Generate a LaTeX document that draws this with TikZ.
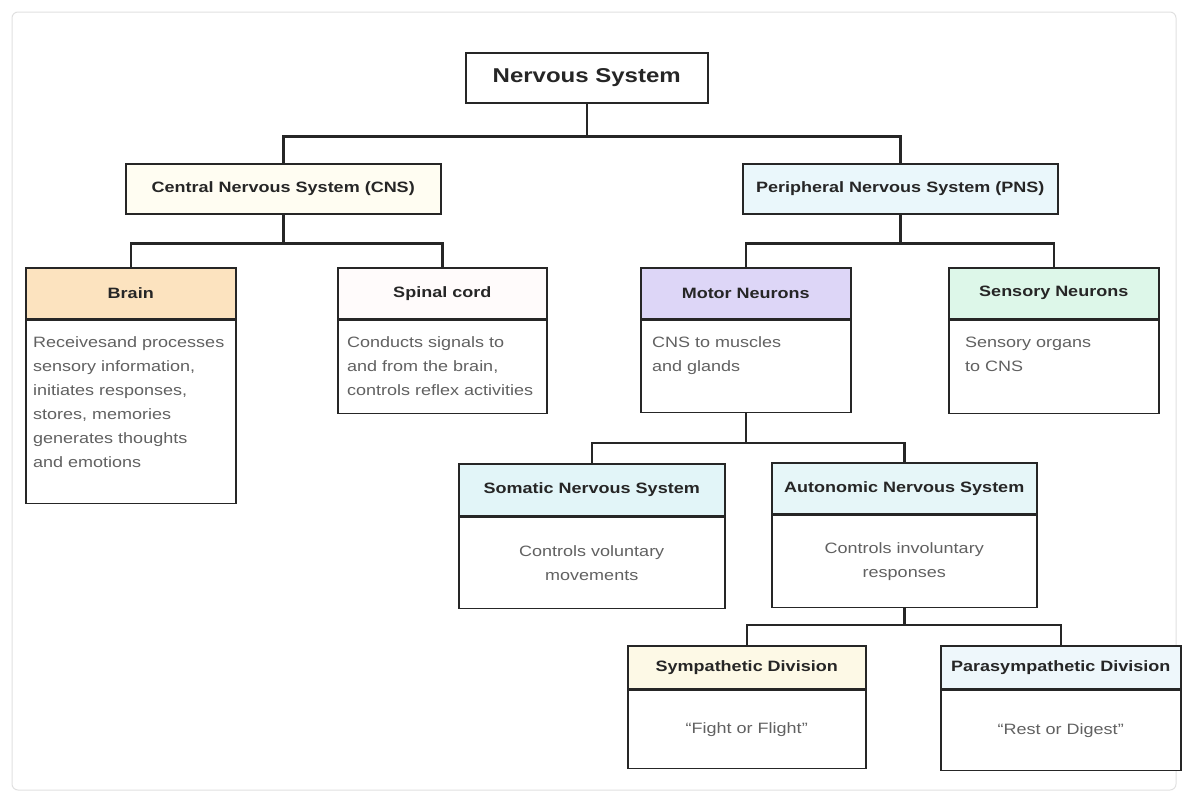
\documentclass[tikz,border=0pt]{standalone}
\usepackage{fontspec}
\setmainfont{Liberation Sans}[FakeStretch=1.2]
\definecolor{cnsc}{HTML}{FFFDF2}
\definecolor{pnsc}{HTML}{EAF7FB}
\definecolor{brainc}{HTML}{FCE3BF}
\definecolor{spinalc}{HTML}{FFFBFB}
\definecolor{motorc}{HTML}{DDD6F7}
\definecolor{sensoryc}{HTML}{DDF7E9}
\definecolor{somaticc}{HTML}{E2F5F8}
\definecolor{autoc}{HTML}{E6F6F8}
\definecolor{sympc}{HTML}{FDF9E6}
\definecolor{parac}{HTML}{EEF7FB}

\begin{document}
\begin{tikzpicture}[x=1pt,y=-1pt,font=\fontsize{15}{24}\selectfont,
    hd/.style={draw=black!85,line width=1.5pt,inner sep=0pt,anchor=north west,
      text=black!85,font=\fontsize{15}{18}\selectfont\bfseries},
    bd/.style={draw=black!85,line width=1.5pt,inner sep=0pt,fill=white,anchor=north},
    txt/.style={inner sep=0pt,text=black!62},
    wire/.style={line width=2.5pt,black!85}]
  \useasboundingbox (0,0) rectangle (1184,798);
  \draw[black!12,rounded corners=6pt,line width=1pt] (12,12) rectangle (1176,790);

  \node[hd,fill=white,minimum width=242pt,minimum height=50pt,
    font=\fontsize{20}{24}\selectfont\bfseries] (ns) at (465,52) {Nervous System};
  \node[hd,fill=cnsc,minimum width=315pt,minimum height=50pt] (cns) at (125,163) {Central Nervous System (CNS)};
  \node[hd,fill=pnsc,minimum width=315pt,minimum height=50pt] (pns) at (742,163) {Peripheral Nervous System (PNS)};

  % name / x / y / width / header / body / colour / title
  \foreach \n/\x/\y/\w/\h/\b/\c/\t in {
      brain/25/267/210/51/183/brainc/Brain,
      spinal/337/267/209/51/93/spinalc/Spinal cord,
      motor/640/267/210/51/92/motorc/Motor Neurons,
      sensory/948/267/210/51/93/sensoryc/Sensory Neurons,
      somatic/458/463/266/52/91/somaticc/Somatic Nervous System,
      auto/771/462/265/51/92/autoc/Autonomic Nervous System,
      symp/627/645/238/43/78/sympc/Sympathetic Division,
      para/940/645/240/43/80/parac/Parasympathetic Division} {
    \node[hd,fill=\c,minimum width=\w pt,minimum height=\h pt] (\n) at (\x,\y) {\t};
    \node[bd,minimum width=\w pt,minimum height=\b pt] (\n-b) at (\n.south) {};
  }

  \node[txt,align=left,anchor=north west] (brain-t) at ([shift={(8,17)}]brain-b.north west)
    {Receivesand processes\\sensory information,\\initiates responses,\\stores, memories\\generates thoughts\\and emotions};
  \node[txt,align=left,anchor=north west] (spinal-t) at ([shift={(10,17)}]spinal-b.north west)
    {Conducts signals to\\and from the brain,\\controls reflex activities};
  \node[txt,align=left,anchor=north west] (motor-t) at ([shift={(12,17)}]motor-b.north west)
    {CNS to muscles\\and glands};
  \node[txt,align=left,anchor=north west] (sensory-t) at ([shift={(17,17)}]sensory-b.north west)
    {Sensory organs\\to CNS};
  \node[txt,align=center] (somatic-t) at (somatic-b) {Controls voluntary\\movements};
  \node[txt,align=center] (auto-t) at (auto-b) {Controls involuntary\\responses};
  \node[txt] (symp-t) at (symp-b) {``Fight or Flight''};
  \node[txt] (para-t) at (para-b) {``Rest or Digest''};

  \foreach \a/\b/\d in {ns/cns/33, ns/pns/33, cns/brain/29, cns/spinal/29, pns/motor/29,
      pns/sensory/29, motor-b/somatic/30, motor-b/auto/30, auto-b/symp/17, auto-b/para/17}
    \draw[wire] (\a.south) -- ++(0,\d) -| (\b.north);
\end{tikzpicture}
\end{document}
